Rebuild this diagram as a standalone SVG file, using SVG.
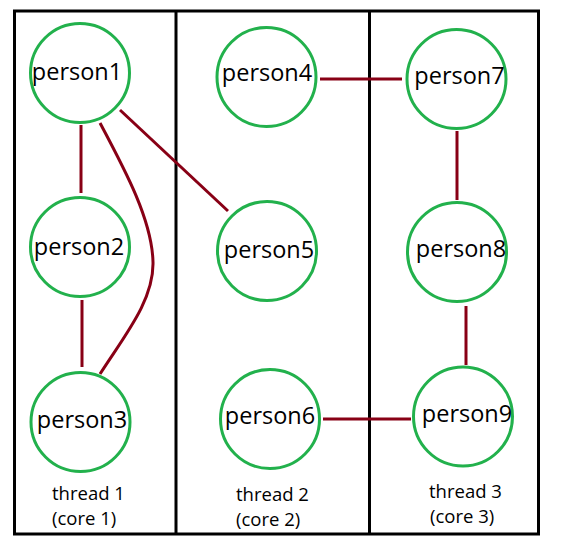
<svg xmlns="http://www.w3.org/2000/svg" width="567" height="547" viewBox="0 0 567 547">
<style>
.frame{fill:none;stroke:#000;stroke-width:3}
.node circle{fill:#fff;stroke:#22b14c;stroke-width:3}
.node text{font-family:"Open Sans","Noto Sans",sans-serif;font-size:23.5px;fill:#000;text-anchor:middle}
.edge{fill:none;stroke:#880015;stroke-width:3}
.lbl{font-family:"Open Sans","Noto Sans",sans-serif;font-size:18.5px;fill:#000}
</style>
<rect width="567" height="547" fill="#fff"/>
<g id="frame">
<rect class="frame" x="14.5" y="11" width="524" height="523"/>
<line class="frame" x1="176" y1="11" x2="176" y2="534"/>
<line class="frame" x1="369.5" y1="11" x2="369.5" y2="534"/>
</g>
<g id="connectors">
<line class="edge" x1="81" y1="125" x2="81" y2="193"/>
<line class="edge" x1="82" y1="300" x2="82" y2="367"/>
<path class="edge" d="M100,123 C125,170 152,220 153,262 C154,300 125,335 100,374"/>
<line class="edge" x1="120" y1="110" x2="228" y2="211"/>
<line class="edge" x1="320" y1="79" x2="402" y2="79"/>
<line class="edge" x1="457" y1="131" x2="457" y2="200"/>
<line class="edge" x1="466" y1="306" x2="466" y2="365"/>
<line class="edge" x1="323" y1="419" x2="411" y2="419"/>
</g>
<g id="person1" class="node"><circle cx="80" cy="73" r="49.5"/><text x="77" y="80">person1</text></g>
<g id="person2" class="node"><circle cx="80" cy="247" r="49.5"/><text x="79" y="255">person2</text></g>
<g id="person3" class="node"><circle cx="80.5" cy="422" r="49.5"/><text x="82" y="428">person3</text></g>
<g id="person4" class="node"><circle cx="266.5" cy="77" r="49.5"/><text x="267" y="81">person4</text></g>
<g id="person5" class="node"><circle cx="267" cy="251" r="49.5"/><text x="269" y="258">person5</text></g>
<g id="person6" class="node"><circle cx="270" cy="419" r="49.5"/><text x="270" y="424">person6</text></g>
<g id="person7" class="node"><circle cx="456.5" cy="79" r="49.5"/><text x="459.5" y="84">person7</text></g>
<g id="person8" class="node"><circle cx="457" cy="252" r="49.5"/><text x="461" y="257">person8</text></g>
<g id="person9" class="node"><circle cx="463" cy="416.5" r="49.5"/><text x="467" y="422">person9</text></g>
<g id="labels">
<text class="lbl" x="52" y="500">thread 1</text>
<text class="lbl" x="52" y="525">(core 1)</text>
<text class="lbl" x="236" y="501">thread 2</text>
<text class="lbl" x="236" y="526">(core 2)</text>
<text class="lbl" x="429" y="498">thread 3</text>
<text class="lbl" x="430" y="523">(core 3)</text>
</g>
</svg>
